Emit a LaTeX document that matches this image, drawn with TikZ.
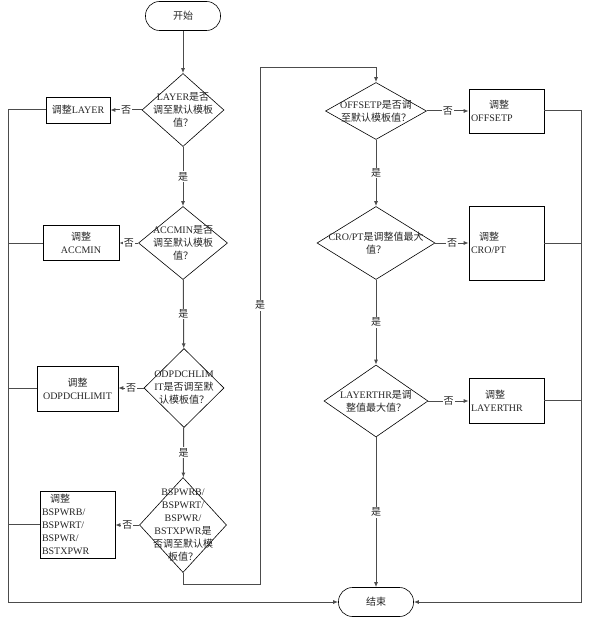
\documentclass[tikz,border=0pt]{standalone}
\usepackage{fontspec}
\setmainfont{Liberation Serif}
\newfontfamily\cjk{Noto Sans CJK SC}
\newcommand{\zh}[1]{{\cjk #1}}
\usetikzlibrary{shapes.geometric, arrows.meta}

\begin{document}
\begin{tikzpicture}[x=1pt, y=-1pt, font=\fontsize{10}{13}\selectfont, text=black!85,
  line/.style={draw=black!70, line width=1pt},
  arrow/.style={line, -{Latex[length=5pt,width=4pt]}},
  terminal/.style={draw, rounded corners=14pt, minimum width=75pt, minimum height=29pt, line width=0.6pt},
  decision/.style={draw, diamond, inner sep=0pt, line width=0.6pt},
  process/.style={draw, rectangle, line width=0.6pt, align=center, inner sep=2pt},
  leftbox/.style={process, align=left, text width=71pt},
  yes/.style={fill=white, inner sep=1pt}]
\useasboundingbox (0,0) rectangle (590,620);

\node[terminal] (start) at (183,16) {\zh{开始}};
\node[terminal] (end) at (376,602) {\zh{结束}};

\node[decision, minimum width=82pt, minimum height=73pt,
  label={[align=center]center:LAYER\zh{是否}\\\zh{调至默认模板}\\\zh{值？}}] (d1) at (183,110) {};
\node[decision, minimum width=89pt, minimum height=73pt,
  label={[align=center]center:ACCMIN\zh{是否}\\\zh{调至默认模板}\\\zh{值？}}] (d2) at (183,243) {};
\node[decision, minimum width=80pt, minimum height=79pt,
  label={[align=center]center:ODPDCHLIM\\IT\zh{是否调至默}\\\zh{认模板值？}}] (d3) at (184,388) {};
\node[decision, minimum width=87pt, minimum height=95pt,
  label={[align=center]center:BSPWRB/\\BSPWRT/\\BSPWR/\\BSTXPWR\zh{是}\\\zh{否调至默认模}\\\zh{板值？}}] (d4) at (183,525) {};

\node[decision, minimum width=101pt, minimum height=57pt,
  label={[align=center]center:OFFSETP\zh{是否调}\\\zh{至默认模板值？}}] (d5) at (376,111) {};
\node[decision, minimum width=118pt, minimum height=73pt,
  label={[align=center]center:CRO/PT\zh{是调整值最大}\\\zh{值？}}] (d6) at (376,243) {};
\node[decision, minimum width=104pt, minimum height=72pt,
  label={[align=center]center:LAYERTHR\zh{是调}\\\zh{整值最大值？}}] (d7) at (376,401) {};

\node[process, minimum width=64pt, minimum height=26pt] (b1) at (78,110) {\zh{调整}LAYER};
\node[process, minimum width=76pt, minimum height=35pt] (b2) at (81,243) {\zh{调整}\\ACCMIN};
\node[process, minimum width=81pt, minimum height=45pt] (b3) at (77.5,388.5) {\zh{调整}\\ODPDCHLIMIT};
\node[leftbox, minimum height=67pt] (b4) at (77.5,524.5) {\hspace*{8pt}\zh{调整}\\BSPWRB/\\BSPWRT/\\BSPWR/\\BSTXPWR};
\node[leftbox, minimum height=44pt] (b5) at (506.5,111) {\hspace*{18pt}\zh{调整}\\OFFSETP};
\node[leftbox, minimum height=74pt] (b6) at (506.5,243) {\hspace*{8pt}\zh{调整}\\CRO/PT};
\node[leftbox, minimum height=45pt] (b7) at (506.5,400.5) {\hspace*{14pt}\zh{调整}\\LAYERTHR};

\coordinate (lrail) at (8,110);
\coordinate (rrail) at (581,111);
\coordinate (jb) at (260,584);
\coordinate (jt) at (260,68);

\draw[arrow] (start) -- (d1);
\draw[arrow] (d1) -- node[yes] {\zh{是}} (d2);
\draw[arrow] (d2) -- node[yes] {\zh{是}} (d3);
\draw[arrow] (d3) -- node[yes] {\zh{是}} (d4);
\draw[arrow] (d5) -- node[yes] {\zh{是}} (d6);
\draw[arrow] (d6) -- node[yes] {\zh{是}} (d7);
\draw[arrow] (d7) -- node[yes] {\zh{是}} (end);

\draw[arrow] (d1.west) -- node[yes] {\zh{否}} (d1.west -| b1.east);
\draw[arrow] (d2.west) -- node[yes] {\zh{否}} (d2.west -| b2.east);
\draw[arrow] (d3.west) -- node[yes] {\zh{否}} (d3.west -| b3.east);
\draw[arrow] (d4.west) -- node[yes] {\zh{否}} (d4.west -| b4.east);
\draw[arrow] (d5.east) -- node[yes] {\zh{否}} (d5.east -| b5.west);
\draw[arrow] (d6.east) -- node[yes] {\zh{否}} (d6.east -| b6.west);
\draw[arrow] (d7.east) -- node[yes] {\zh{否}} (d7.east -| b7.west);

\draw[arrow] (d4.south) |- (jb) -- node[yes, pos=0.54] {\zh{是}} (jt) -| (d5.north);

\draw[arrow] (b1.west) -- (lrail) -- (lrail |- end) -- (end.west);
\draw[line] (b2.west) -- (b2.west -| lrail);
\draw[line] (b3.west) -- (b3.west -| lrail);
\draw[line] (b4.west) -- (b4.west -| lrail);

\draw[arrow] (b5.east) -- (rrail) -- (rrail |- end) -- (end.east);
\draw[line] (b6.east) -- (b6.east -| rrail);
\draw[line] (b7.east) -- (b7.east -| rrail);
\end{tikzpicture}
\end{document}
